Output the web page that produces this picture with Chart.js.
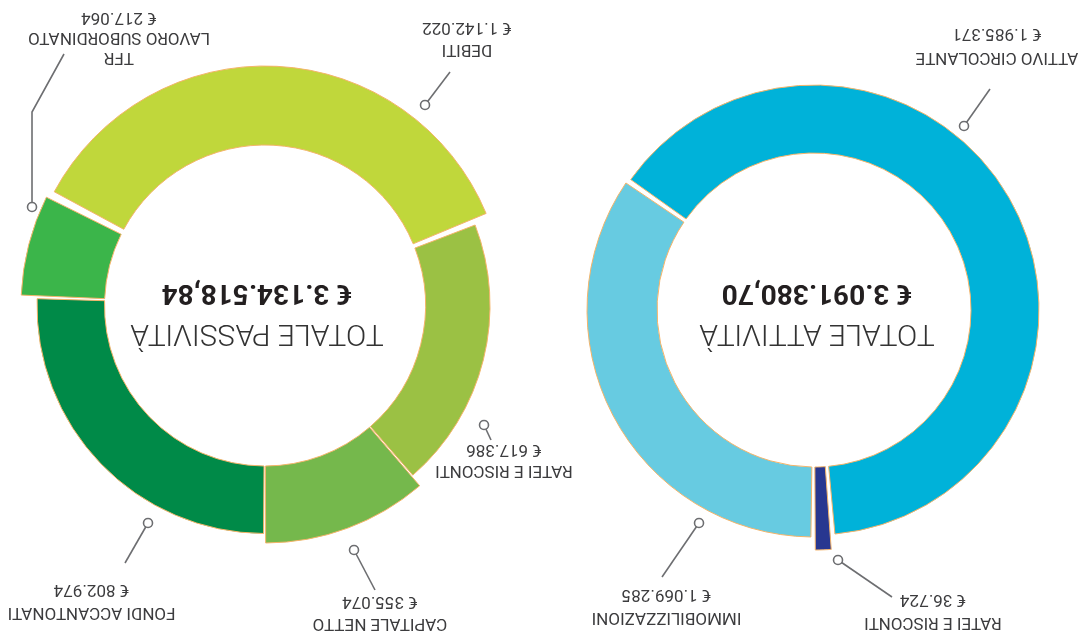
<!DOCTYPE html>
<html>
<head>
<meta charset="utf-8">
<script src="https://cdn.jsdelivr.net/npm/chart.js@4.4.1/dist/chart.umd.min.js"></script>
<style>
html,body{margin:0;padding:0;background:#ffffff;overflow:hidden}
#stage{position:relative;width:1079px;height:640px;transform:rotate(180deg);transform-origin:50% 50%}
#stage canvas{position:absolute;left:0;top:0}
</style>
</head>
<body>
<div id="stage">
  <canvas id="attivita" width="1079" height="640"></canvas>
  <canvas id="passivita" width="1079" height="640"></canvas>
</div>
<script>
// ---------- DATA ----------
const attivitaCategories = [['IMMOBILIZZAZIONI'], ['ATTIVO CIRCOLANTE'], ['RATEI E RISCONTI']];
const attivitaValues = [1069285, 1985371, 36724];
const attivitaTotal = 3091380.70;
const attivitaTitle = 'TOTALE ATTIVITÀ';

const passivitaCategories = [['FONDI ACCANTONATI'], ['TFR', 'LAVORO SUBORDINATO'], ['DEBITI'], ['RATEI E RISCONTI'], ['CAPITALE NETTO']];
const passivitaValues = [802974, 217064, 1142022, 617386, 355074];
const passivitaTotal = 3134518.84;
const passivitaTitle = 'TOTALE PASSIVITÀ';

// ---------- STYLE ----------
const attivitaColors = ['#67cbe1', '#00b2d9', '#283790'];
const passivitaColors = ['#008a48', '#3bb54a', '#c0d73b', '#9bc144', '#75b84c'];
const attivitaOuter = [227, 225, 240];
const passivitaOuter = [228, 244, 239.5, 225, 237.5];
const attivitaInner = 157;
const passivitaInner = 160.5;
const ringSpacing = 3;
// extra gap (px) trimmed at start / end of each slice
const attivitaTrim = [[1, 0], [0, 0.5], [0.5, 1]];
const passivitaTrim = [[0, 0.5], [0.5, 2.5], [2.5, 1.5], [1.5, 0], [0, 0]];

// label layout (relative to donut centre): dot, leader path, text centre x, first baseline, line height
const attivitaLabelLayout = [
  {dot: [115, -213], path: [[152, -267]], x: 147.5, y: -303, lh: 23},
  {dot: [-150, 184], path: [[-176, 221]], x: -183, y: 257, lh: 24},
  {dot: [-24, -250], path: [[-78, -287]], x: -119, y: -308, lh: 23}
];
const passivitaLabelLayout = [
  {dot: [117, -217.5], path: [[140, -257.5]], x: 173.5, y: -302.5, lh: 23},
  {dot: [233, 98.5], path: [[233, 193.5], [201, 251.5]], x: 146, y: 252.5, lh: 20},
  {dot: [-160, 200.5], path: [[-185, 233.5]], x: -202, y: 260.5, lh: 22},
  {dot: [-219, -119.5], path: [[-226, -134.5]], x: -239, y: -160.5, lh: 21},
  {dot: [-89, -244.5], path: [[-110, -284.5]], x: -115, y: -313.5, lh: 22}
];

function fmtInt(v) {
  return String(Math.round(v)).replace(/\B(?=(\d{3})+(?!\d))/g, '.');
}
function fmtTotal(v) {
  const whole = Math.floor(v);
  const cents = Math.round((v - whole) * 100);
  return '€ ' + fmtInt(whole) + ',' + String(cents).padStart(2, '0');
}

const ringPlugin = {
  id: 'ring',
  beforeDatasetsDraw(chart, args, opts) {
    const meta = chart.getDatasetMeta(0);
    const sp = ringSpacing / 2;
    meta.data.forEach((arc, i) => {
      arc.innerRadius = opts.inner - sp;
      arc.outerRadius = opts.outer[i] - sp;
      const rMid = (opts.inner + opts.outer[i]) / 2;
      const t = opts.trim[i];
      arc.startAngle += t[0] / rMid;
      arc.endAngle -= t[1] / rMid;
      arc.circumference = arc.endAngle - arc.startAngle;
    });
  },
  afterDraw(chart, args, opts) {
    const ctx = chart.ctx;
    const arc0 = chart.getDatasetMeta(0).data[0];
    const cx = arc0.x, cy = arc0.y;
    ctx.save();
    // centre texts
    ctx.textAlign = 'center';
    ctx.textBaseline = 'alphabetic';
    ctx.fillStyle = '#333333';
    ctx.font = '300 30px Roboto';
    ctx.fillText(opts.title, cx + opts.titleDx, cy + opts.titleDy);
    ctx.fillStyle = '#231f20';
    ctx.font = '700 28px Roboto';
    ctx.fillText(fmtTotal(opts.total), cx + opts.titleDx, cy + opts.amountDy);
    // labels
    const cats = chart.data.labels;
    const vals = chart.data.datasets[0].data;
    opts.layout.forEach((L, i) => {
      ctx.strokeStyle = '#6d6e71';
      ctx.lineWidth = 1.6;
      ctx.beginPath();
      ctx.moveTo(cx + L.dot[0], cy + L.dot[1]);
      L.path.forEach(p => ctx.lineTo(cx + p[0], cy + p[1]));
      ctx.stroke();
      ctx.beginPath();
      ctx.arc(cx + L.dot[0], cy + L.dot[1], 4.5, 0, Math.PI * 2);
      ctx.fillStyle = '#ffffff';
      ctx.fill();
      ctx.stroke();
      const lines = cats[i].concat(['€ ' + fmtInt(vals[i])]);
      ctx.fillStyle = '#3c3c3e';
      ctx.font = '400 17px Roboto';
      lines.forEach((t, k) => {
        ctx.fillText(t, cx + L.x, cy + L.y + k * L.lh);
      });
    });
    ctx.restore();
  }
};

function makeDonut(id, cats, vals, colors, pad, ringOpts) {
  return new Chart(document.getElementById(id), {
    type: 'doughnut',
    data: {
      labels: cats,
      datasets: [{
        data: vals,
        backgroundColor: colors,
        borderColor: '#f4b46a',
        borderWidth: 1,
        spacing: ringSpacing
      }]
    },
    options: {
      responsive: false,
      animation: false,
      events: [],
      rotation: 0,
      cutout: '70%',
      layout: {padding: pad},
      plugins: {
        legend: {display: false},
        tooltip: {enabled: false},
        ring: ringOpts
      }
    },
    plugins: [ringPlugin]
  });
}

makeDonut('attivita', attivitaCategories, attivitaValues, attivitaColors,
  {left: 0, right: 549, top: 20, bottom: 0},
  {inner: attivitaInner, outer: attivitaOuter, trim: attivitaTrim, layout: attivitaLabelLayout,
   title: attivitaTitle, total: attivitaTotal, titleDx: -3, titleDy: -15, amountDy: 25});

makeDonut('passivita', passivitaCategories, passivitaValues, passivitaColors,
  {left: 549, right: 0, top: 29, bottom: 0},
  {inner: passivitaInner, outer: passivitaOuter, trim: passivitaTrim, layout: passivitaLabelLayout,
   title: passivitaTitle, total: passivitaTotal, titleDx: 8, titleDy: -19.5, amountDy: 20.5});
</script>
</body>
</html>
